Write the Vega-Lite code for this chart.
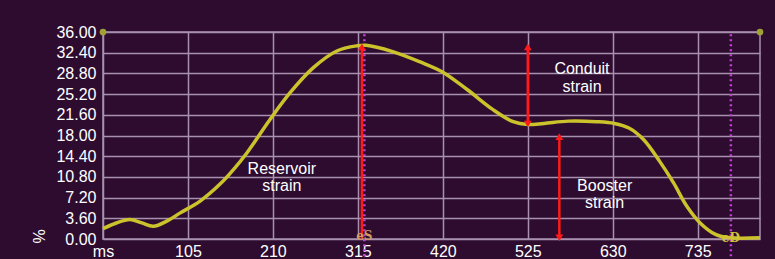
{
  "$schema": "https://vega.github.io/schema/vega-lite/v6.json",
  "autosize": {"type": "none"},
  "width": 657,
  "height": 207,
  "padding": {"left": 103, "top": 32, "right": 15, "bottom": 20},
  "background": "#2d0c30",
  "config": {
    "view": {"stroke": "#a890ae", "strokeWidth": 1.5},
    "font": "Liberation Sans"
  },
  "datasets": {
    "curve": [
      {"ms": 0, "v": 1.8}, {"ms": 15, "v": 2.7}, {"ms": 33, "v": 3.4}, {"ms": 48, "v": 2.8},
      {"ms": 62, "v": 2.2}, {"ms": 80, "v": 3.2}, {"ms": 95, "v": 4.5}, {"ms": 120, "v": 6.6},
      {"ms": 145, "v": 9.6}, {"ms": 162, "v": 12.2}, {"ms": 178, "v": 15.0}, {"ms": 206, "v": 20.7}, {"ms": 231, "v": 25.4},
      {"ms": 260, "v": 29.8}, {"ms": 289, "v": 32.7}, {"ms": 314, "v": 33.6}, {"ms": 325, "v": 33.7},
      {"ms": 358, "v": 32.6}, {"ms": 392, "v": 30.8}, {"ms": 419, "v": 29.1}, {"ms": 450, "v": 26.0},
      {"ms": 482, "v": 22.5}, {"ms": 507, "v": 20.4}, {"ms": 525, "v": 19.9}, {"ms": 545, "v": 20.1},
      {"ms": 575, "v": 20.5}, {"ms": 610, "v": 20.4}, {"ms": 632, "v": 20.1}, {"ms": 650, "v": 19.3},
      {"ms": 668, "v": 17.3}, {"ms": 688, "v": 13.5}, {"ms": 705, "v": 9.8}, {"ms": 722, "v": 5.6},
      {"ms": 738, "v": 2.8}, {"ms": 757, "v": 0.8}, {"ms": 775, "v": 0.2}, {"ms": 812, "v": 0.2}
    ],
    "events": [
      {"event": "eS", "ms": 323, "v": -3, "v2": 36},
      {"event": "eD", "ms": 776, "v": -3, "v2": 36}
    ],
    "arrows": [
      {"name": "Reservoir", "ms": 320, "v": 0, "v2": 33.4, "both": false},
      {"name": "Conduit", "ms": 525, "v": 20.0, "v2": 33.4, "both": true},
      {"name": "Booster", "ms": 564, "v": 0.2, "v2": 17.8, "both": true}
    ],
    "notes": [
      {"ms": 221, "v": 12.2, "label": "Reservoir"},
      {"ms": 221, "v": 9.2, "label": "strain"},
      {"ms": 592, "v": 29.5, "label": "Conduit"},
      {"ms": 592, "v": 26.5, "label": "strain"},
      {"ms": 620, "v": 9.2, "label": "Booster"},
      {"ms": 620, "v": 6.2, "label": "strain"}
    ],
    "corners": [
      {"ms": 0, "v": 36},
      {"ms": 812, "v": 36}
    ]
  },
  "encoding": {
    "x": {
      "field": "ms", "type": "quantitative",
      "scale": {"domain": [0, 812], "nice": false, "zero": false},
      "axis": {
        "values": [0, 105, 210, 315, 420, 525, 630, 735],
        "labelExpr": "datum.value == 0 ? 'ms' : datum.label",
        "grid": true, "gridColor": "#a890ae", "gridWidth": 1.5,
        "domain": false, "ticks": false,
        "labelColor": "#ffffff", "labelFontSize": 16, "labelPadding": 4,
        "labelFlush": false, "labelOverlap": false,
        "title": null
      }
    },
    "y": {
      "field": "v", "type": "quantitative",
      "scale": {"domain": [0, 36], "nice": false, "zero": false},
      "axis": {
        "values": [0, 3.6, 7.2, 10.8, 14.4, 18, 21.6, 25.2, 28.8, 32.4, 36],
        "format": ".2f",
        "grid": true, "gridColor": "#a890ae", "gridWidth": 1.5,
        "domain": false, "ticks": false,
        "labelColor": "#ffffff", "labelFontSize": 16, "labelPadding": 7,
        "labelFlush": false, "labelOverlap": false,
        "title": "%", "titleColor": "#ffffff", "titleFontSize": 16, "titleFontWeight": "normal",
        "titleX": -64, "titleY": 204, "titleAngle": -90, "titleAlign": "center", "titleBaseline": "middle"
      }
    }
  },
  "layer": [
    {
      "data": {"name": "events"},
      "mark": {"type": "rule", "color": "#c23fd6", "strokeWidth": 2.5, "strokeDash": [2, 3]},
      "encoding": {"y2": {"field": "v2"}}
    },
    {
      "data": {"name": "curve"},
      "mark": {"type": "line", "color": "#cbc22c", "strokeWidth": 3.5, "interpolate": "catmull-rom"}
    },
    {
      "data": {"name": "arrows"},
      "mark": {"type": "rule", "color": "#ff1a1a", "strokeWidth": 2.5},
      "encoding": {"y2": {"field": "v2"}}
    },
    {
      "data": {"name": "arrows"},
      "mark": {"type": "point", "shape": "triangle-up", "filled": true, "color": "#ff1a1a", "size": 60, "opacity": 1},
      "encoding": {"y": {"field": "v2", "type": "quantitative"}}
    },
    {
      "data": {"name": "arrows"},
      "transform": [{"filter": "datum.both"}],
      "mark": {"type": "point", "shape": "triangle-down", "filled": true, "color": "#ff1a1a", "size": 60, "opacity": 1}
    },
    {
      "data": {"name": "events"},
      "transform": [{"filter": "datum.event == 'eS'"}],
      "mark": {"type": "text", "font": "DejaVu Serif", "fontWeight": "bold", "fontSize": 12, "color": "#d49a5e", "baseline": "middle", "align": "center", "dy": -3},
      "encoding": {"y": {"datum": 0}, "text": {"field": "event"}}
    },
    {
      "data": {"name": "events"},
      "transform": [{"filter": "datum.event == 'eD'"}],
      "mark": {"type": "text", "font": "DejaVu Serif", "fontWeight": "bold", "fontSize": 12, "color": "#d2c23a", "baseline": "middle", "align": "center", "dy": -1},
      "encoding": {"y": {"datum": 0}, "text": {"field": "event"}}
    },
    {
      "data": {"name": "notes"},
      "mark": {"type": "text", "color": "#ffffff", "fontSize": 16, "baseline": "middle", "align": "center"},
      "encoding": {"text": {"field": "label"}}
    },
    {
      "data": {"name": "corners"},
      "mark": {"type": "point", "filled": true, "color": "#9fa232", "size": 45, "opacity": 1}
    }
  ]
}
